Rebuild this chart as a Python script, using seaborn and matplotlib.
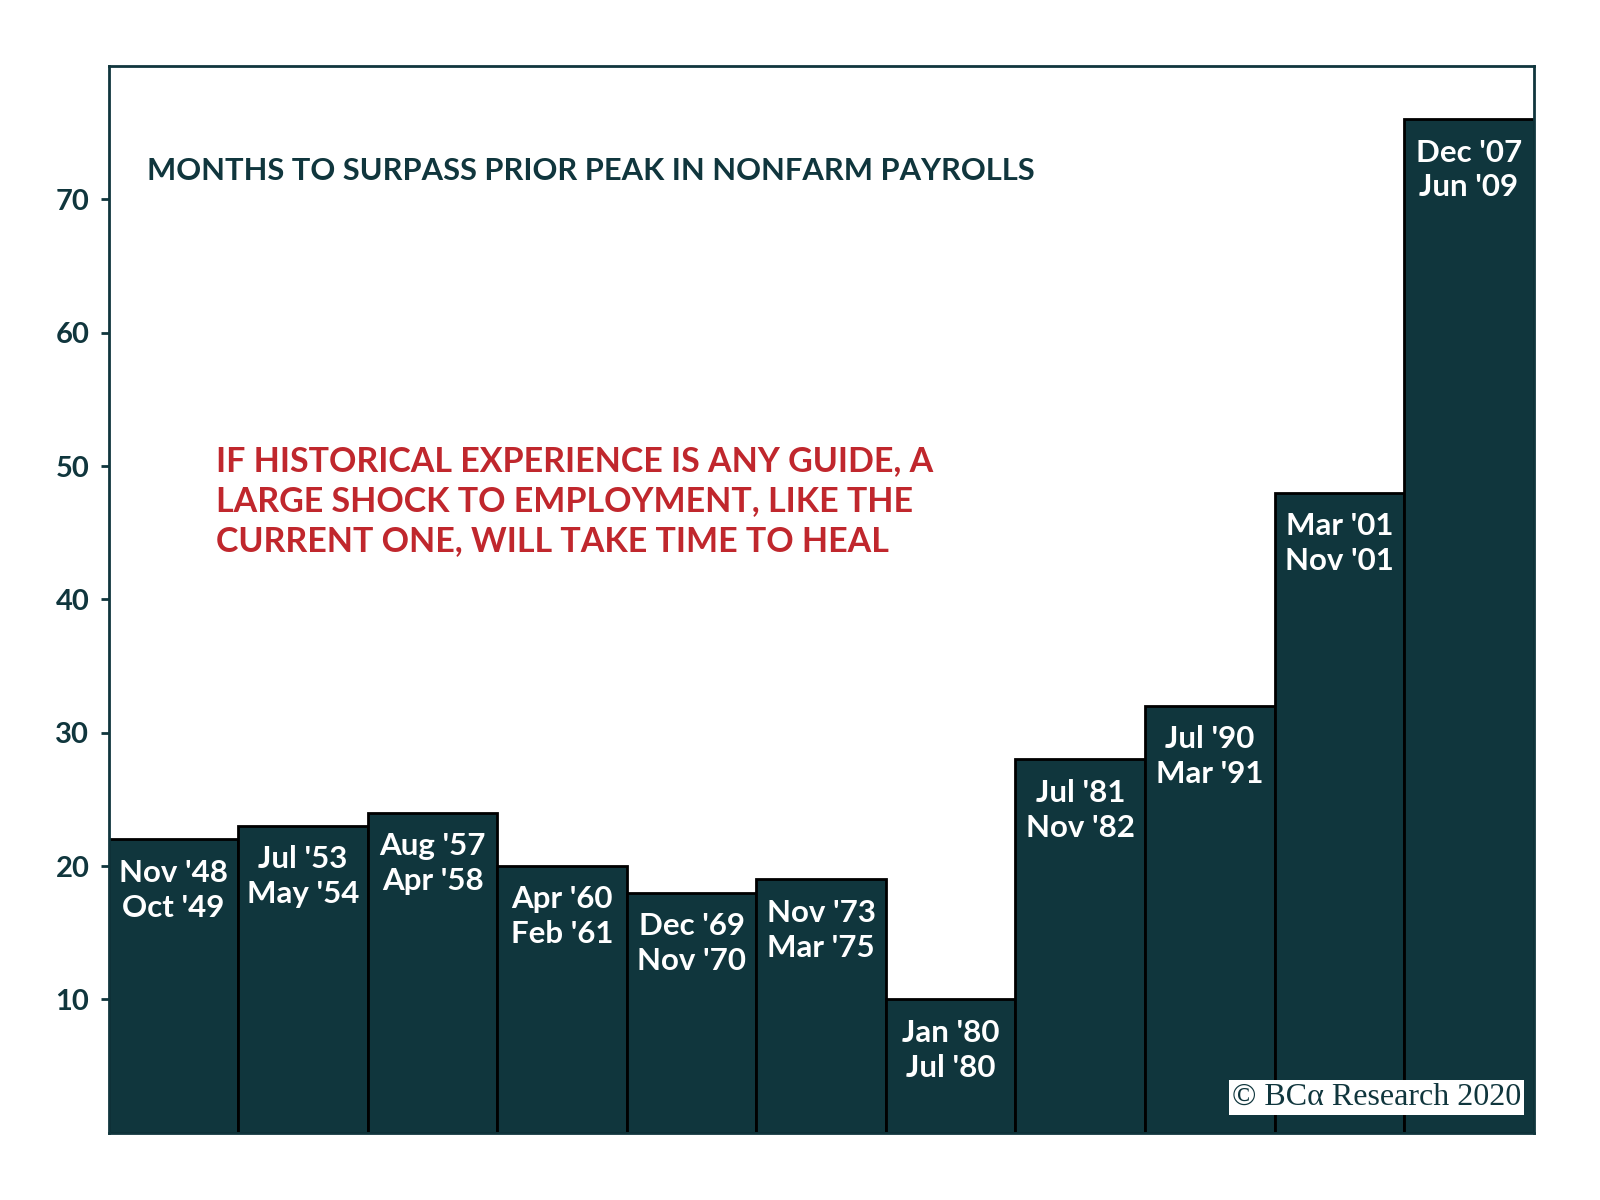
import numpy as np
import pandas as pd
import matplotlib
matplotlib.use("Agg")
import matplotlib.pyplot as plt
import seaborn as sns

# datos
starts = ["Nov '48", "Jul '53", "Aug '57", "Apr '60", "Dec '69", "Nov '73",
          "Jan '80", "Jul '81", "Jul '90", "Mar '01", "Dec '07"]
ends = ["Oct '49", "May '54", "Apr '58", "Feb '61", "Nov '70", "Mar '75",
        "Jul '80", "Nov '82", "Mar '91", "Nov '01", "Jun '09"]
months = [22, 23, 24, 20, 18, 19, 10, 28, 32, 48, 76]
yticks = [10, 20, 30, 40, 50, 60, 70]

TEAL = "#10363d"
RED = "#c0272d"

sns.set_style("white")
plt.rcParams['font.family'] = ['Lato', 'DejaVu Sans']

df = pd.DataFrame({"periodo": [f"{a}\n{b}" for a, b in zip(starts, ends)],
                   "meses": months})

fig = plt.figure(figsize=(16, 12), dpi=100)
ax = fig.add_axes([0.068, 0.056, 0.8905, 0.889])

sns.barplot(data=df, x="periodo", y="meses", color=TEAL, saturation=1,
            width=1.0, edgecolor="black", linewidth=2, ax=ax)

# etiquetas dentro de las barras
for i, (lab, v) in enumerate(zip(df["periodo"], months)):
    ax.text(i, v - 3.8, lab, ha="center", va="center", color="white",
            fontsize=22.5, fontweight="bold", linespacing=1.3)

ax.set_xlim(-0.5, len(months) - 0.5)
ax.set_ylim(0, 80)
ax.set_yticks(yticks)
ax.set_yticklabels([str(t) for t in yticks], fontsize=21, fontweight="bold", color=TEAL)
ax.set_xticks([])
ax.set_xlabel("")
ax.set_ylabel("")
ax.tick_params(axis="y", left=True, length=6, width=2, color=TEAL, pad=8)
for s in ax.spines.values():
    s.set_color(TEAL)
    s.set_linewidth(2)

ax.text(0.027, 0.902, "MONTHS TO SURPASS PRIOR PEAK IN NONFARM PAYROLLS",
        transform=ax.transAxes, fontsize=22.2, color=TEAL, fontweight="bold",
        va="center", ha="left")

ax.text(0.075, 0.592,
        "IF HISTORICAL EXPERIENCE IS ANY GUIDE, A\nLARGE SHOCK TO EMPLOYMENT, LIKE THE\nCURRENT ONE, WILL TAKE TIME TO HEAL",
        transform=ax.transAxes, fontsize=24.5, color=RED, fontweight="bold",
        va="center", ha="left", linespacing=1.3)

ax.text(0.991, 0.033, "© BCα Research 2020", transform=ax.transAxes,
        fontsize=23, color=TEAL, family=["Liberation Serif", "DejaVu Serif"],
        ha="right", va="center",
        bbox=dict(facecolor="white", edgecolor="none", pad=2))

plt.savefig("out.png", dpi=100)
